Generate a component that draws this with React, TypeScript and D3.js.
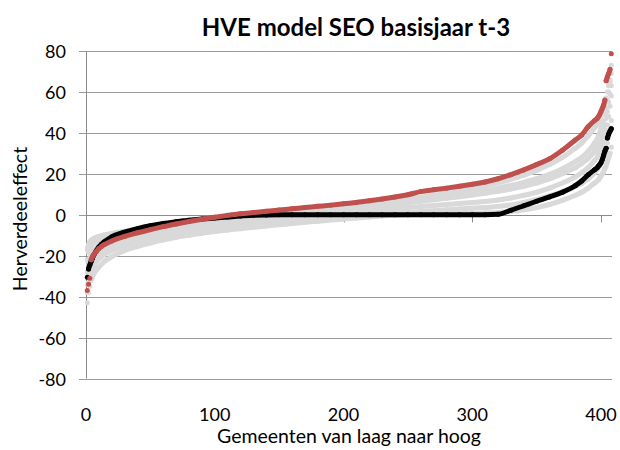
import React from 'react';
import * as d3 from 'd3';

// rank of municipality (sorted low to high) at which each value was read
const ranks = [1, 2, 3, 4, 5, 6, 8, 10, 12, 14, 20, 30, 40, 50, 60, 70, 80, 90, 100, 110, 120, 130, 140, 150, 160, 170, 180, 190, 200, 210, 220, 230, 240, 250, 260, 270, 280, 290, 300, 310, 320, 330, 340, 350, 360, 370, 380, 385, 390, 395, 397, 398, 399, 400, 401, 402, 403, 404, 405, 406, 407, 408];

const redSeries = [-37, -34, -31, -22, -20.5, -19.5, -18, -16.5, -15.5, -14.7, -12.8, -10.6, -8.8, -7.3, -5.8, -4.5, -3.3, -2.2, -1.2, -0.3, 0.5, 1.1, 1.7, 2.3, 2.9, 3.5, 4.1, 4.7, 5.4, 6.0, 6.8, 7.7, 8.7, 9.8, 11.3, 12.2, 13.0, 13.9, 14.9, 16.0, 17.6, 19.6, 21.9, 24.5, 27.3, 31.5, 36.5, 39, 43, 46, 47, 48, 49, 50.5, 52, 53.5, 56, 65.5, 67.5, 69, 71, 78.6];

const blackSeries = [-30.5, -26.5, -24.5, -22.8, -21.2, -19.8, -17.6, -15.8, -14.4, -13.3, -10.8, -8.5, -6.8, -5.4, -4.3, -3.4, -2.7, -2.1, -1.6, -1.1, -0.6, -0.3, -0.1, 0, 0, 0, 0, 0, 0, 0, 0, 0, 0, 0, 0, 0, 0, 0, 0, 0, 0.2, 2.2, 4.4, 6.6, 8.7, 11, 14.2, 16.5, 19.5, 22, 23, 23.8, 24.5, 25.5, 27, 29, 31, 32.5, 37.5, 39.5, 40.8, 42];

const grey1 = [-43, -38, -35, -32, -30.5, -29, -27, -25.5, -24.2, -23, -20.5, -17.5, -15.5, -13.8, -12.3, -11, -10, -9, -8.2, -7.5, -6.8, -6.1, -5.5, -4.9, -4.3, -3.7, -3.2, -2.6, -2.1, -1.6, -1.1, -0.6, -0.3, 0, 0.2, 0.3, 0.4, 0.6, 0.7, 0.9, 1.1, 1.6, 2.4, 3.5, 5, 7, 9.5, 11, 13, 15.5, 16.5, 17, 18, 19, 20, 21, 22.5, 24, 26, 28, 30, 33];
const grey2 = [-38, -33, -30, -27.5, -26, -25, -23, -21.5, -20.5, -19.5, -17.5, -15, -13, -11.5, -10.2, -9, -8, -7.1, -6.3, -5.6, -5, -4.4, -3.8, -3.2, -2.7, -2.2, -1.7, -1.2, -0.8, -0.4, 0, 0.4, 0.8, 1.2, 1.6, 2, 2.4, 2.8, 3.2, 3.6, 4, 4.8, 6, 7.5, 9.2, 11.2, 13.8, 15.3, 17.5, 20.5, 22, 23, 24, 25, 26.5, 28, 30, 32, 35, 38, 42, 46];
const grey3 = [-34, -29, -26.5, -24.5, -23, -22, -20.3, -19, -18, -17, -15, -12.5, -10.8, -9.4, -8.2, -7.2, -6.3, -5.5, -4.8, -4.1, -3.5, -2.9, -2.3, -1.7, -1.1, -0.6, 0, 0.5, 1, 1.5, 2, 2.5, 3, 3.5, 4, 4.5, 5, 5.5, 6, 6.5, 7.2, 8.2, 9.5, 11, 13, 15.5, 18.5, 20.5, 23, 26.5, 28, 29.5, 30.5, 32, 34, 36, 38.5, 41, 44, 48, 53, 58];
const grey4 = [-28, -24, -21.5, -19.5, -18.3, -17.3, -16, -15, -14.2, -13.5, -12, -10.2, -8.8, -7.6, -6.6, -5.7, -4.9, -4.2, -3.5, -2.9, -2.3, -1.7, -1.1, -0.5, 0.1, 0.7, 1.3, 1.9, 2.5, 3.1, 3.8, 4.5, 5.2, 5.9, 6.6, 7.3, 8, 8.8, 9.6, 10.5, 11.5, 12.6, 13.9, 15.5, 17.5, 20, 23, 25, 27.5, 31, 33, 34.5, 36, 37.5, 39.5, 41.5, 44, 47, 50.5, 55, 59, 63];
const grey5 = [-22, -18.5, -16.5, -15, -14.2, -13.6, -12.8, -12.2, -11.7, -11.2, -10.2, -8.9, -7.8, -6.8, -6, -5.2, -4.5, -3.8, -3.1, -2.5, -1.9, -1.3, -0.7, -0.1, 0.5, 1.1, 1.7, 2.3, 2.9, 3.6, 4.3, 5, 5.8, 6.6, 7.4, 8.2, 9, 9.9, 10.8, 11.8, 13, 14.3, 15.8, 17.6, 19.8, 22.5, 26, 28, 31, 35, 37, 38.5, 40, 42, 44, 46, 49, 52, 56, 60, 66, 73];
const grey6 = [-17, -14.5, -13.2, -12.5, -12, -11.6, -11, -10.6, -10.2, -9.9, -9.1, -8, -7, -6.1, -5.3, -4.6, -3.9, -3.2, -2.5, -1.9, -1.3, -0.6, 0, 0.6, 1.2, 1.8, 2.4, 3, 3.7, 4.4, 5.1, 5.9, 6.8, 7.7, 8.6, 9.6, 10.6, 11.7, 12.8, 14.1, 15.6, 17.3, 19.3, 21.7, 24.5, 28, 32.5, 35, 38.5, 42.5, 44, 45.5, 47, 48.5, 50, 52, 54.5, 57, 60, 63, 65, 69];

const greySeries = [grey1, grey2, grey3, grey4, grey5, grey6];

const xTicks = [0, 100, 200, 300, 400];
const yTicks = [-80, -60, -40, -20, 0, 20, 40, 60, 80];
const xEnd = 408.5;

const W = 620;
const H = 450;
const FONT = 'Lato, "Open Sans", sans-serif';

const x = d3.scaleLinear().domain([0, 400]).range([86, 601]);
const y = d3.scaleLinear().domain([-80, 80]).range([378.5, 51]);

const R = 2.5;

// split a series into runs of touching markers, isolated markers stay single
function runs(values: number[]) {
  const pts = values.map((v, i) => [x(ranks[i]), y(v), ranks[i]] as [number, number, number]);
  const out: [number, number, number][][] = [];
  let cur: [number, number, number][] = [];
  pts.forEach((p, i) => {
    if (i > 0) {
      const q = pts[i - 1];
      const d = Math.hypot(p[0] - q[0], p[1] - q[1]);
      if (p[2] - q[2] === 1 && d > 5.5) {
        out.push(cur);
        cur = [];
      }
    }
    cur.push(p);
  });
  out.push(cur);
  return out;
}

const line = d3
  .line<[number, number, number]>()
  .x((d) => d[0])
  .y((d) => d[1])
  .curve(d3.curveMonotoneX);

function Series({ values, color }: { values: number[]; color: string }) {
  const segs = runs(values);
  return (
    <g>
      {segs.filter((s) => s.length > 1).map((s, i) => (
        <path key={'p' + i} d={line(s) || ''} fill="none" stroke={color} strokeWidth={R * 2}
          strokeLinecap="round" strokeLinejoin="round" />
      ))}
      {values.map((v, i) => (
        <circle key={i} cx={x(ranks[i])} cy={y(v)} r={R} fill={color} />
      ))}
    </g>
  );
}

export default function App() {
  const y0 = Math.round(y(0)) + 0.5;
  return (
    <svg width={W} height={H} style={{ position: 'absolute', left: 0, top: 0 }} fontFamily={FONT}>
      <rect width={W} height={H} fill="#fff" />

      {/* gridlines and y ticks */}
      {yTicks.map((t) => {
        const yy = Math.round(y(t)) + 0.5;
        return (
          <g key={t}>
            <line x1={79} x2={x(xEnd)} y1={yy} y2={yy} stroke="#9a9a9a" strokeWidth={1} />
            <text x={66} y={yy + 6.5} fontSize={18} textAnchor="end" fill="#000">{t}</text>
          </g>
        );
      })}

      {/* vertical axis */}
      <line x1={x(0) + 0.5} x2={x(0) + 0.5} y1={y(80)} y2={y(-80)} stroke="#8c8c8c" strokeWidth={1} />

      {/* x axis at zero, ticks down; labels at the bottom */}
      <line x1={x(0)} x2={x(xEnd)} y1={y0} y2={y0} stroke="#8c8c8c" strokeWidth={1} />
      {xTicks.map((t) => (
        <g key={t}>
          <line x1={Math.round(x(t)) + 0.5} x2={Math.round(x(t)) + 0.5} y1={y0} y2={y0 + 7} stroke="#8c8c8c" />
          <text x={x(t)} y={421} fontSize={18} textAnchor="middle" fill="#000">{t}</text>
        </g>
      ))}

      {/* markers */}
      {greySeries.map((s, i) => (
        <Series key={i} values={s} color="#d9d9d9" />
      ))}
      <Series values={blackSeries} color="#000000" />
      <Series values={redSeries} color="#c0504d" />

      <text x={356} y={36} fontSize={24} fontWeight="bold" textAnchor="middle" fill="#000">
        HVE model SEO basisjaar t-3
      </text>
      <text x={349} y={443} fontSize={19.5} textAnchor="middle" fill="#000">
        Gemeenten van laag naar hoog
      </text>
      <text transform="translate(27,219) rotate(-90)" fontSize={19.5} textAnchor="middle" fill="#000">
        Herverdeeleffect
      </text>
    </svg>
  );
}
